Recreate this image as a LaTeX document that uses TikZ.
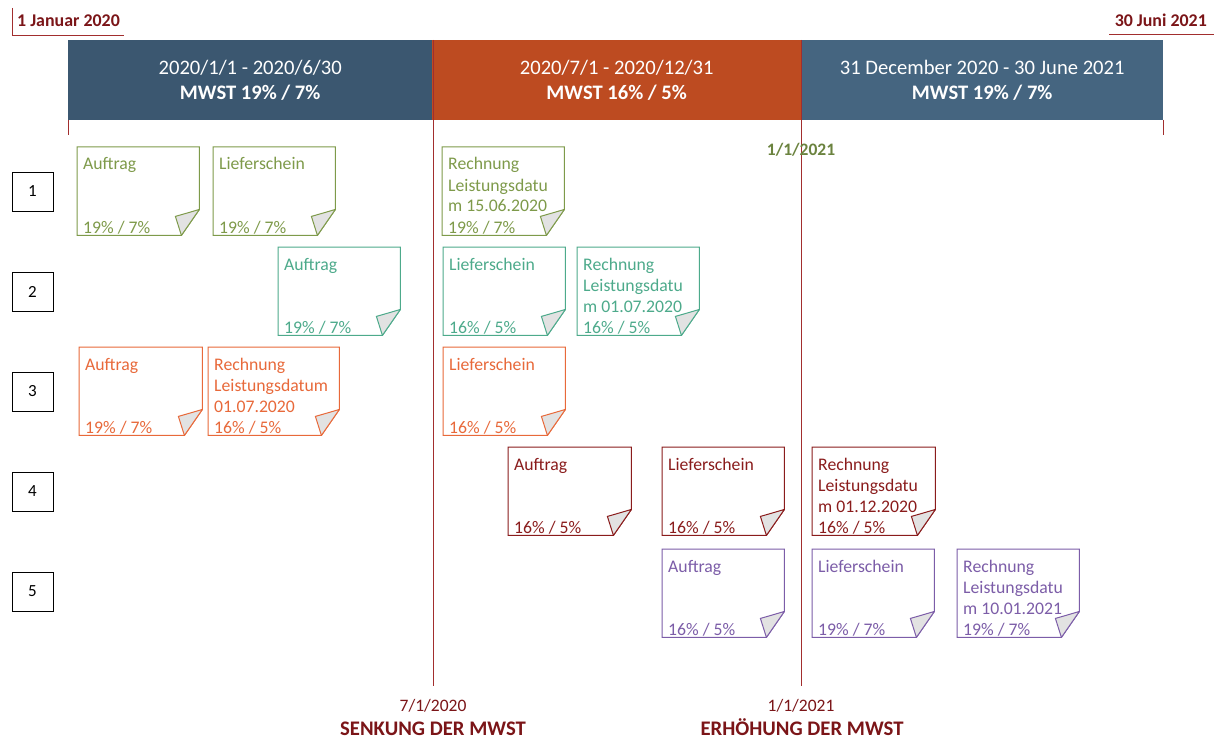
\documentclass[tikz,border=0pt]{standalone}
\usepackage{fontspec}
\setmainfont{Carlito}
\definecolor{hdrA}{HTML}{3B5770}
\definecolor{hdrB}{HTML}{BD4B21}
\definecolor{hdrC}{HTML}{456580}
\definecolor{mline}{HTML}{A22E2E}
\definecolor{mtext}{HTML}{7B1518}
\definecolor{olivec}{HTML}{7E9A4A}
\definecolor{tealc}{HTML}{4DAA8B}
\definecolor{orangec}{HTML}{E8693A}
\definecolor{redc}{HTML}{8A1C1C}
\definecolor{purplec}{HTML}{7C5DA8}
\definecolor{foldgray}{HTML}{E2E2E2}
\newcommand\docnote[7]{%
  \node[inner sep=0pt, minimum width=#4, minimum height=88, anchor=north west] (#1) at (#2,#3) {};
  \draw[#5, line width=1pt, fill=white] (#1.north west) -- (#1.north east) -- ([yshift=26]#1.south east) -- ([xshift=-18]#1.south east) -- (#1.south west) -- cycle;
  \filldraw[draw=#5, fill=foldgray, line width=1pt, line join=round] ([yshift=26]#1.south east) .. controls ([xshift=-10,yshift=23]#1.south east) .. ([xshift=-24,yshift=19]#1.south east) .. controls ([xshift=-21,yshift=10]#1.south east) .. ([xshift=-18]#1.south east) -- cycle;
  \node[notetext, text=#5, anchor=base west] (#1-t) at ([xshift=6,yshift=-23]#1.north west) {\vtop{#6}};
  \node[notetext, text=#5, anchor=base west] (#1-b) at ([xshift=6,yshift=2]#1.south west) {#7};
}
\tikzset{
  notetext/.style={inner sep=0pt, font=\fontsize{17.7}{21}\selectfont},
  header/.style={inner sep=0pt, minimum height=80, anchor=north west, text=white, align=center, font=\fontsize{20.6}{25}\selectfont},
  numbox/.style={draw=black, line width=0.9pt, minimum width=41, minimum height=39, inner sep=0pt, font=\fontsize{17}{20}\selectfont},
  mlinestyle/.style={draw=mline, line width=1pt},
  datelabel/.style={text=mtext, inner sep=0pt, font=\fontsize{17.5}{21}\selectfont},
  boldlabel/.style={text=mtext, inner sep=0pt, font=\bfseries\fontsize{20.7}{24}\selectfont},
}
\begin{document}
\begin{tikzpicture}[x=1pt,y=-1pt]
\useasboundingbox[fill=white] (0,0) rectangle (1214,738);
% vertical marker lines
\coordinate (l1top) at (433.5,40);
\coordinate (l1bot) at (433.5,686);
\coordinate (l2top) at (801.5,40);
\coordinate (l2bot) at (801.5,686);
% ticks
\coordinate (t1a) at (68.5,120); \coordinate (t1b) at (68.5,135);
\coordinate (t2a) at (1163.5,120); \coordinate (t2b) at (1163.5,135);
% headers
\node[header, fill=hdrA, minimum width=364] (h1) at (68,40) {2020/1/1 - 2020/6/30\\\textbf{MWST 19\% / 7\%}};
\node[header, fill=hdrB, minimum width=369] (h2) at (432,40) {2020/7/1 - 2020/12/31\\\textbf{MWST 16\% / 5\%}};
\node[header, fill=hdrC, minimum width=362] (h3) at (801,40) {31 December 2020 - 30 June 2021\\\textbf{MWST 19\% / 7\%}};
\draw[mlinestyle] (l1top) -- (l1bot);
\draw[mlinestyle] (l2top) -- (l2bot);
\draw[mlinestyle] (t1a) -- (t1b);
\draw[mlinestyle] (t2a) -- (t2b);
% top labels
\node[text=mtext, inner sep=0pt, anchor=base west, font=\bfseries\fontsize{17.9}{21}\selectfont] (start) at (17,27) {1 Januar 2020};
\node[text=mtext, inner sep=0pt, anchor=base east, font=\bfseries\fontsize{17.9}{21}\selectfont] (end) at (1207,27) {30 Juni 2021};
\coordinate (s1) at (12.5,8); \coordinate (s2) at (12.5,35.5); \coordinate (s3) at (124,35.5);
\draw[draw=mline, line width=1pt] (s1) -- (s2) -- (s3);
\coordinate (e1) at (1109,34.5); \coordinate (e2) at (1214,34.5);
\draw[draw=mline, line width=1pt] (e1) -- (e2);
% 1/1/2021 olive label
\node[text=olivec!85!black, inner sep=0pt, anchor=base, font=\bfseries\fontsize{17.5}{21}\selectfont] (mid) at (801,156) {1/1/2021};
% row numbers
\node[numbox] (r1) at (32.5,191.5) {1};
\node[numbox] (r2) at (32.5,291.5) {2};
\node[numbox] (r3) at (32.5,391.5) {3};
\node[numbox] (r4) at (32.5,491.5) {4};
\node[numbox] (r5) at (32.5,591.5) {5};
% row 1
\docnote{a1}{77}{147}{122}{olivec}{\hbox{Auftrag}}{19\% / 7\%}
\docnote{b1}{213}{147}{122}{olivec}{\hbox{Lieferschein}}{19\% / 7\%}
\docnote{c1}{442}{147}{122}{olivec}{\hbox{Rechnung}\hbox{Leistungsdatu}\hbox{m 15.06.2020}}{19\% / 7\%}
% row 2
\docnote{a2}{278}{247}{122}{tealc}{\hbox{Auftrag}}{19\% / 7\%}
\docnote{b2}{443}{247}{122}{tealc}{\hbox{Lieferschein}}{16\% / 5\%}
\docnote{c2}{577}{247}{122}{tealc}{\hbox{Rechnung}\hbox{Leistungsdatu}\hbox{m 01.07.2020}}{16\% / 5\%}
% row 3
\docnote{a3}{79}{347}{123}{orangec}{\hbox{Auftrag}}{19\% / 7\%}
\docnote{c3}{208}{347}{131}{orangec}{\hbox{Rechnung}\hbox{Leistungsdatum}\hbox{01.07.2020}}{16\% / 5\%}
\docnote{b3}{443}{347}{122}{orangec}{\hbox{Lieferschein}}{16\% / 5\%}
% row 4
\docnote{a4}{508}{447}{123}{redc}{\hbox{Auftrag}}{16\% / 5\%}
\docnote{b4}{662}{447}{122}{redc}{\hbox{Lieferschein}}{16\% / 5\%}
\docnote{c4}{812}{447}{123}{redc}{\hbox{Rechnung}\hbox{Leistungsdatu}\hbox{m 01.12.2020}}{16\% / 5\%}
% row 5
\docnote{a5}{662}{549}{122}{purplec}{\hbox{Auftrag}}{16\% / 5\%}
\docnote{b5}{812}{549}{122}{purplec}{\hbox{Lieferschein}}{19\% / 7\%}
\docnote{c5}{957}{549}{122}{purplec}{\hbox{Rechnung}\hbox{Leistungsdatu}\hbox{m 10.01.2021}}{19\% / 7\%}
% bottom labels
\node[datelabel, anchor=base] (d1) at (433,711) {7/1/2020};
\node[boldlabel, anchor=base] (d1b) at (433,735) {SENKUNG DER MWST};
\node[datelabel, anchor=base] (d2) at (801,711) {1/1/2021};
\node[boldlabel, anchor=base] (d2b) at (802,735) {ERHÖHUNG DER MWST};
\end{tikzpicture}
\end{document}
